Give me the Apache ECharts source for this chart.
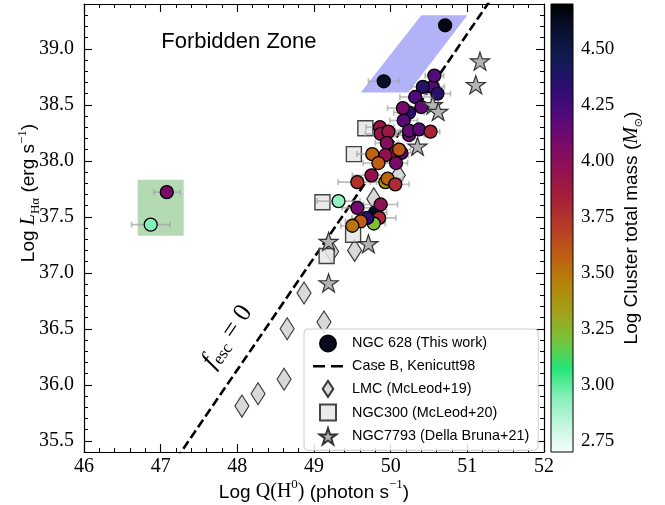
<!DOCTYPE html>
<html>
<head>
<meta charset="utf-8">
<script src="https://cdn.jsdelivr.net/npm/echarts@6/dist/echarts.min.js"></script>
<style>
  html, body { margin: 0; padding: 0; background: #ffffff; }
  #chart { width: 665px; height: 505px; }
</style>
</head>
<body>
<div id="chart"></div>
<script>
// ---- NGC 628 HII regions (this work) ----
// log Q(H0) [photon/s], log L(Halpha) [erg/s], log cluster mass [Msun], error on log Q
const q628 = [49.80, 49.93, 50.14, 50.55, 50.42, 50.61, 50.57, 50.32, 50.40, 50.24,
              50.16, 50.17, 49.86, 49.87, 49.97, 50.24, 50.24, 50.37, 50.52, 49.95,
              50.03, 49.93, 50.11, 49.76, 50.07, 49.84, 49.96, 50.06, 49.75, 49.565,
              49.32, 49.87, 49.565, 49.85, 49.78, 49.695, 49.61, 49.50, 49.91, 50.71,
              47.08, 46.87];
const lha628 = [37.54, 37.81, 38.07, 38.66, 38.66, 38.60, 38.76, 38.57, 38.48, 38.43,
                38.47, 38.36, 38.30, 38.24, 38.26, 38.23, 38.27, 38.28, 38.26, 38.16,
                38.05, 38.05, 38.10, 38.06, 37.98, 37.98, 37.84, 37.79, 37.87, 37.81,
                37.64, 37.61, 37.58, 37.49, 37.44, 37.49, 37.46, 37.42, 38.71, 39.21,
                37.72, 37.43];
const mass628 = [4.60, 3.40, 4.15, 4.20, 4.36, 4.35, 4.20, 4.22, 4.15, 4.33,
                 4.08, 4.18, 3.93, 3.93, 3.90, 4.12, 4.15, 4.18, 3.82, 4.02,
                 3.93, 3.95, 3.60, 3.56, 4.08, 3.58, 3.55, 3.78, 3.95, 3.75,
                 2.92, 3.98, 4.10, 3.80, 3.22, 4.33, 3.58, 3.50, 4.60, 4.65,
                 4.08, 2.95];
const qErr628 = [0.15, 0.20, 0.15, 0.15, 0.15, 0.17, 0.12, 0.20, 0.15, 0.20,
                 0.20, 0.18, 0.18, 0.20, 0.15, 0.20, 0.18, 0.20, 0.12, 0.15,
                 0.20, 0.20, 0.15, 0.20, 0.15, 0.20, 0.20, 0.18, 0.25, 0.25,
                 0.28, 0.22, 0.20, 0.22, 0.15, 0.20, 0.20, 0.15, 0.20, 0.08,
                 0.17, 0.25];

// ---- comparison samples ----
const qLMC   = [48.06, 48.27, 48.61, 48.65, 48.87, 49.13, 49.23, 49.53, 49.78, 50.10];
const lhaLMC = [35.81, 35.92, 36.05, 36.50, 36.82, 36.56, 37.19, 37.20, 37.66, 37.87];

const qN300   = [49.67, 49.52, 49.11, 49.51, 49.165];
const lhaN300 = [38.29, 38.06, 37.63, 37.34, 37.15];

const qN7793   = [51.165, 51.11, 50.55, 50.62, 50.35, 49.71, 49.19, 49.19];
const lhaN7793 = [38.89, 38.68, 38.50, 38.44, 38.13, 37.26, 37.28, 36.91];

// Case B relation (Kennicutt 1998), end points of the segment
const caseBQ = [47.20, 51.30];
const caseBL = [35.334, 39.434];

// shaded zones (corner lists in data units)
const blueZoneQ = [49.61, 50.23, 51.00, 50.40];
const blueZoneL = [38.61, 38.61, 39.30, 39.30];
const greenZoneQ = [46.70, 47.30, 47.30, 46.70];
const greenZoneL = [37.33, 37.33, 37.83, 37.83];

// text anchors in data units
const forbiddenPos = [48.02, 39.06];
const fescPos = [47.87, 36.43];

// axes
const xTicks = [46, 47, 48, 49, 50, 51, 52];
const yTicks = [35.5, 36.0, 36.5, 37.0, 37.5, 38.0, 38.5, 39.0];
const massTicks = [2.75, 3.00, 3.25, 3.50, 3.75, 4.00, 4.25, 4.50];
const massRange = [2.70, 4.70];

// mass colour map, evenly spaced from massRange[0] to massRange[1]
const massCmap = ['#f7fffb', '#c2f5dd', '#84efb8', '#24e676', '#78c23c', '#a3a119',
                  '#b48408', '#bf5e14', '#b73c27', '#a72237', '#94114f', '#790b69',
                  '#540a7b', '#2c0d72', '#131b52', '#091133', '#000000'];

const SANS = 'Liberation Sans';
const SERIF = 'Liberation Serif';

// marker shapes
const STAR = 'path://M50,0L61.2,34.5L97.6,34.5L68.2,55.9L79.4,90.5L50,69.1L20.6,90.5L31.8,55.9L2.4,34.5L38.8,34.5Z';
const DIAMOND = 'path://M6,0L12,9L6,18L0,9Z';
const SQUARE = 'path://M0,0H10V10H0Z';
const DASHES = 'path://M0,0H12V2.6H0Z M18,0H30V2.6H18Z';

const pts628 = q628.map((q, i) => [q, lha628[i], mass628[i], qErr628[i]]);
const ptsLMC = qLMC.map((q, i) => [q, lhaLMC[i]]);
const ptsN300 = qN300.map((q, i) => [q, lhaN300[i]]);
const ptsN7793 = qN7793.map((q, i) => [q, lhaN7793[i]]);
const caseBLine = caseBQ.map((q, i) => [q, caseBL[i]]);

const chart = echarts.init(document.getElementById('chart'), null, { renderer: 'canvas' });

const frameLine = { show: true, onZero: false, lineStyle: { color: '#000', width: 1.2 } };
const majorTick = { show: true, inside: true, length: 8, lineStyle: { color: '#000', width: 1.1 } };
const minorTickStyle = { show: true, inside: true, length: 4, lineStyle: { color: '#000', width: 1 } };

function mainX(position, withLabels) {
  return {
    type: 'value', gridIndex: 0, position: position, min: 46, max: 52, interval: 1,
    axisLine: frameLine,
    axisTick: majorTick,
    minorTick: Object.assign({ splitNumber: 5 }, minorTickStyle),
    splitLine: { show: false }, minorSplitLine: { show: false },
    axisLabel: withLabels ? {
      show: true, fontFamily: SERIF, fontSize: 20, color: '#000', margin: 5,
      showMinLabel: true, showMaxLabel: true
    } : { show: false }
  };
}

function mainYMajor(position, withLabels) {
  return {
    type: 'value', gridIndex: 0, position: position, min: 35.4, max: 39.4,
    axisLine: frameLine,
    axisTick: Object.assign({ customValues: yTicks }, majorTick),
    splitLine: { show: false },
    axisLabel: withLabels ? {
      show: true, customValues: yTicks, fontFamily: SERIF, fontSize: 20, color: '#000',
      margin: 10, formatter: v => v.toFixed(1)
    } : { show: false }
  };
}

function mainYMinor(position) {
  return {
    type: 'value', gridIndex: 0, position: position, min: 35.4, max: 39.4, interval: 0.1,
    axisLine: { show: false },
    axisTick: minorTickStyle,
    splitLine: { show: false },
    axisLabel: { show: false }
  };
}

const xName = mainX('bottom', true);
xName.name = '{s|Log }{m|Q(H}{sup|0}{m|)}{s| (photon s}{sup|\u22121}{s|)}';
xName.nameLocation = 'middle';
xName.nameGap = 26;
xName.nameMoveOverlap = false;
xName.nameTextStyle = {
  color: '#000',
  rich: {
    s: { fontFamily: SANS, fontSize: 19, lineHeight: 24, verticalAlign: 'bottom' },
    m: { fontFamily: SERIF, fontSize: 20, lineHeight: 24, verticalAlign: 'bottom' },
    sup: { fontFamily: SERIF, fontSize: 13, lineHeight: 14, verticalAlign: 'top' }
  }
};

const yName = mainYMajor('left', true);
yName.name = '{s|Log }{mi|L}{sub|H\u03b1}{s| (erg s}{sup|\u22121}{s|)}';
yName.nameLocation = 'middle';
yName.nameRotate = 90;
yName.nameGap = 42;
yName.nameMoveOverlap = false;
yName.nameTextStyle = {
  color: '#000',
  padding: [0, 0, 0, 70],
  rich: {
    s: { fontFamily: SANS, fontSize: 19, lineHeight: 26, verticalAlign: 'middle' },
    mi: { fontFamily: SERIF, fontStyle: 'italic', fontSize: 20, lineHeight: 26, verticalAlign: 'middle' },
    sub: { fontFamily: SERIF, fontSize: 13, lineHeight: 12, verticalAlign: 'bottom' },
    sup: { fontFamily: SERIF, fontSize: 13, lineHeight: 14, verticalAlign: 'top' }
  }
};

const option = {
  animation: false,
  backgroundColor: '#ffffff',
  grid: [
    { left: 84, top: 4, width: 460, height: 448, containLabel: false, outerBoundsMode: 'none' },
    { left: 551, top: 4, width: 22, height: 448, containLabel: false, outerBoundsMode: 'none' }
  ],
  xAxis: [
    xName,
    mainX('top', false),
    { type: 'value', gridIndex: 1, min: 0, max: 1, show: false }
  ],
  yAxis: [
    yName,
    mainYMinor('left'),
    mainYMajor('right', false),
    mainYMinor('right'),
    {
      type: 'value', gridIndex: 1, position: 'right', min: massRange[0], max: massRange[1],
      axisLine: { show: false },
      axisTick: { show: true, inside: false, length: 4, customValues: massTicks,
                  lineStyle: { color: '#000', width: 1 } },
      splitLine: { show: false },
      axisLabel: { show: true, customValues: massTicks, fontFamily: SERIF, fontSize: 19,
                   color: '#000', margin: 8, formatter: v => v.toFixed(2) },
      name: '{s|Log Cluster total mass (}{mi|M}{sub|\u2299}{s|)}',
      nameLocation: 'middle',
      nameRotate: 90,
      nameGap: 46,
      nameMoveOverlap: false,
      nameTextStyle: {
        color: '#000',
        rich: {
          s: { fontFamily: SANS, fontSize: 19, lineHeight: 26, verticalAlign: 'middle' },
          mi: { fontFamily: SERIF, fontStyle: 'italic', fontSize: 20, lineHeight: 26, verticalAlign: 'middle' },
          sub: { fontFamily: 'DejaVu Sans', fontSize: 11, lineHeight: 12, verticalAlign: 'bottom' }
        }
      }
    }
  ],
  visualMap: {
    type: 'continuous', show: false, seriesIndex: 4, dimension: 2,
    min: massRange[0], max: massRange[1],
    inRange: { color: massCmap }
  },
  legend: {
    orient: 'vertical', left: 304, top: 329,
    itemWidth: 30, itemHeight: 16, itemGap: 5.7,
    padding: [5.5, 9, 5, 9],
    backgroundColor: 'rgba(255,255,255,0.85)',
    borderColor: '#cccccc', borderWidth: 1, borderRadius: 4,
    selectedMode: false,
    textStyle: { fontFamily: SANS, fontSize: 14.4, lineHeight: 16, color: '#000', padding: [0, 0, 0, 4] },
    data: [
      { name: 'NGC 628 (This work)', icon: 'circle',
        itemStyle: { color: '#0a0a1e', opacity: 1 } },
      { name: 'Case B, Kenicutt98', icon: DASHES,
        itemStyle: { color: '#000', borderWidth: 0, opacity: 1 } },
      { name: 'LMC (McLeod+19)', icon: DIAMOND },
      { name: 'NGC300 (McLeod+20)', icon: SQUARE },
      { name: 'NGC7793 (Della Bruna+21)', icon: STAR }
    ]
  },
  series: [
    // 0: shaded zones
    {
      type: 'custom', name: 'zones', xAxisIndex: 0, yAxisIndex: 0, z: 1, silent: true,
      data: [[0, 0], [1, 0]],
      renderItem: (params, api) => {
        const blue = api.value(0) === 0;
        const zq = blue ? blueZoneQ : greenZoneQ;
        const zl = blue ? blueZoneL : greenZoneL;
        const pts = zq.map((q, i) => api.coord([q, zl[i]]));
        return {
          type: 'polygon', shape: { points: pts },
          style: { fill: blue ? 'rgb(178,178,249)' : 'rgb(179,218,179)' }
        };
      }
    },
    // 1: Case B line
    {
      type: 'line', name: 'Case B, Kenicutt98', xAxisIndex: 0, yAxisIndex: 0, z: 2,
      data: caseBLine, symbol: 'none', clip: true, silent: true,
      lineStyle: { color: '#000', width: 2.6, type: [9, 4] },
      itemStyle: { color: '#000' }
    },
    // 2: LMC
    {
      type: 'scatter', name: 'LMC (McLeod+19)', xAxisIndex: 0, yAxisIndex: 0, z: 3,
      data: ptsLMC, symbol: DIAMOND, symbolSize: [14, 22], silent: true,
      itemStyle: { color: '#d9d9d9', borderColor: '#3a3a3a', borderWidth: 1.2, opacity: 1 }
    },
    // 3: NGC300
    {
      type: 'scatter', name: 'NGC300 (McLeod+20)', xAxisIndex: 0, yAxisIndex: 0, z: 3,
      data: ptsN300, symbol: 'rect', symbolSize: 15, silent: true,
      itemStyle: { color: 'rgba(230,230,230,0.85)', borderColor: '#444', borderWidth: 1.4, opacity: 1 }
    },
    // 4: NGC 628 clusters, coloured by mass
    {
      type: 'scatter', name: 'NGC 628 (This work)', xAxisIndex: 0, yAxisIndex: 0, z: 5,
      data: pts628, symbol: 'circle', symbolSize: 13, silent: true,
      itemStyle: { color: '#0a0a1e', borderColor: '#000', borderWidth: 1.3, opacity: 1 }
    },
    // 5: NGC7793
    {
      type: 'scatter', name: 'NGC7793 (Della Bruna+21)', xAxisIndex: 0, yAxisIndex: 0, z: 6,
      data: ptsN7793, symbol: STAR, symbolSize: 19, symbolKeepAspect: true, silent: true,
      itemStyle: { color: '#b4b4b4', borderColor: '#333', borderWidth: 1.2, opacity: 1 }
    },
    // 6: horizontal error bars of NGC 628
    {
      type: 'custom', name: 'errors', xAxisIndex: 0, yAxisIndex: 0, z: 4, silent: true,
      data: pts628,
      renderItem: (params, api) => {
        const x = api.value(0), y = api.value(1), e = api.value(3);
        const a = api.coord([x - e, y]);
        const b = api.coord([x + e, y]);
        const st = { stroke: 'rgba(165,165,165,0.75)', lineWidth: 1.6 };
        return {
          type: 'group',
          children: [
            { type: 'line', shape: { x1: a[0], y1: a[1], x2: b[0], y2: b[1] }, style: st },
            { type: 'line', shape: { x1: a[0], y1: a[1] - 3, x2: a[0], y2: a[1] + 3 }, style: st },
            { type: 'line', shape: { x1: b[0], y1: b[1] - 3, x2: b[0], y2: b[1] + 3 }, style: st }
          ]
        };
      }
    },
    // 7: colour bar
    {
      type: 'custom', name: 'colorbar', xAxisIndex: 2, yAxisIndex: 4, z: 2, silent: true,
      data: [[0, massRange[0]]],
      renderItem: (params, api) => {
        const p0 = api.coord([0, massRange[0]]);
        const p1 = api.coord([1, massRange[1]]);
        const stops = massCmap.map((c, i) => ({ offset: i / (massCmap.length - 1), color: c }));
        return {
          type: 'rect',
          shape: { x: p0[0], y: p1[1], width: p1[0] - p0[0], height: p0[1] - p1[1] },
          style: {
            fill: new echarts.graphic.LinearGradient(0, 1, 0, 0, stops),
            stroke: '#000', lineWidth: 1
          }
        };
      }
    },
    // 8: annotations
    {
      type: 'custom', name: 'notes', xAxisIndex: 0, yAxisIndex: 0, z: 8, silent: true,
      data: [[0, 0]],
      renderItem: (params, api) => {
        const a = api.coord(forbiddenPos);
        const f = api.coord(fescPos);
        const c0 = api.coord([caseBQ[0], caseBL[0]]);
        const c1 = api.coord([caseBQ[1], caseBL[1]]);
        const ang = Math.atan2(c0[1] - c1[1], c1[0] - c0[0]);
        return {
          type: 'group',
          children: [
            {
              type: 'text', x: a[0], y: a[1],
              style: { text: 'Forbidden Zone', fontFamily: SANS, fontSize: 22, fill: '#000',
                       align: 'center', verticalAlign: 'middle' }
            },
            {
              type: 'text', x: f[0], y: f[1], rotation: ang,
              style: {
                text: '{i|f}{sub|esc}{n| = 0}',
                align: 'center', verticalAlign: 'middle', fill: '#000',
                rich: {
                  i: { fontFamily: SERIF, fontStyle: 'italic', fontSize: 26, lineHeight: 30,
                       verticalAlign: 'middle', fill: '#000' },
                  sub: { fontFamily: SERIF, fontSize: 17, lineHeight: 14,
                         verticalAlign: 'bottom', fill: '#000' },
                  n: { fontFamily: SERIF, fontSize: 26, lineHeight: 30,
                       verticalAlign: 'middle', fill: '#000' }
                }
              }
            }
          ]
        };
      }
    }
  ]
};

chart.setOption(option);
</script>
</body>
</html>
